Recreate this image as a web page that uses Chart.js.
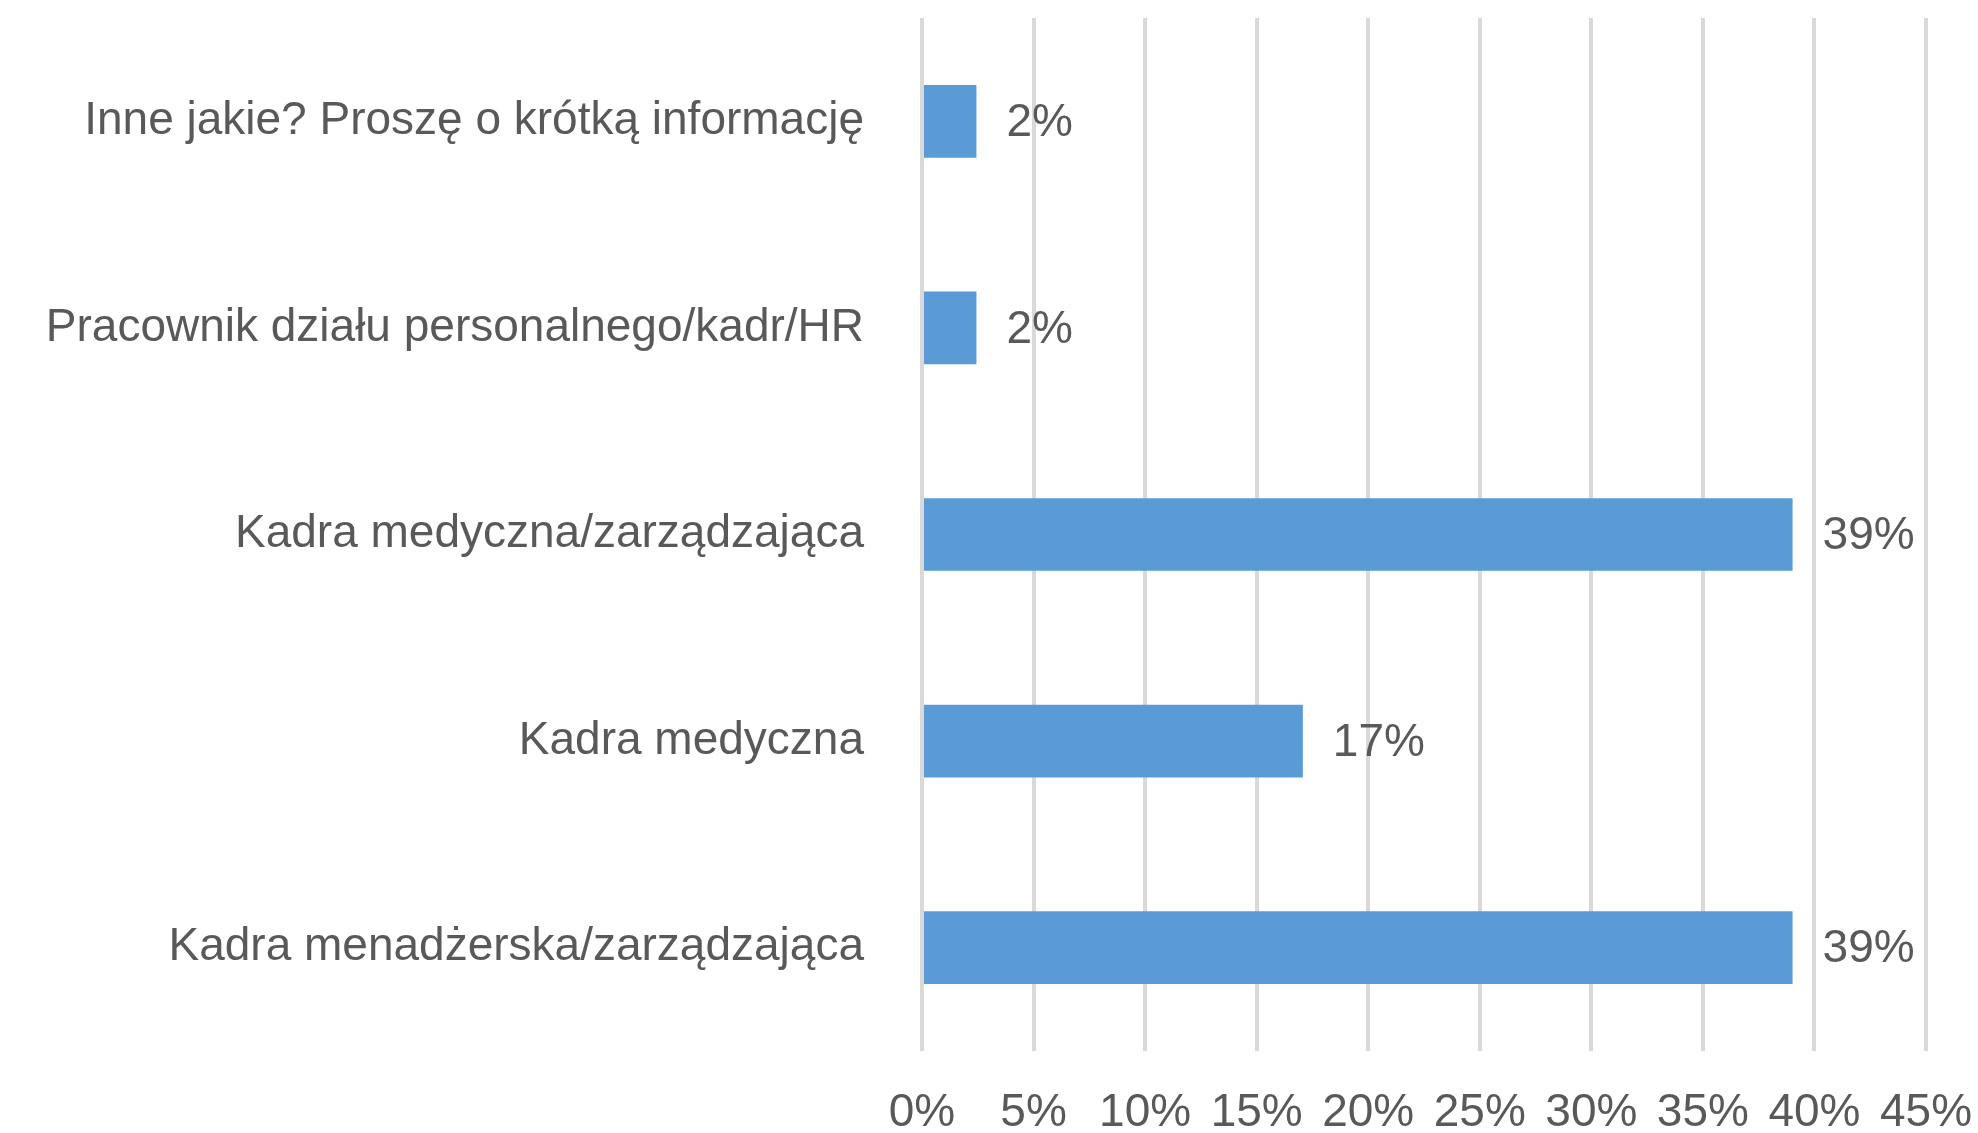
<!DOCTYPE html>
<html lang="pl">
<head>
    <meta charset="UTF-8">
    <title>Stanowisko respondentów</title>
    <script src="https://cdn.jsdelivr.net/npm/chart.js"></script>
    <style>
        html, body {
            margin: 0;
            padding: 0;
            background: #ffffff;
        }
        .wrap {
            width: 1978px;
            height: 1133px;
        }
    </style>
</head>
<body>
    <div class="wrap">
        <canvas id="chart" width="1978" height="1133"></canvas>
    </div>

    <script>
        // categories, top to bottom as shown
        const categories = [
            'Inne jakie? Proszę o krótką informację',
            'Pracownik działu personalnego/kadr/HR',
            'Kadra medyczna/zarządzająca',
            'Kadra medyczna',
            'Kadra menadżerska/zarządzająca'
        ];
        // share of answers, in percent
        const shares = [2.44, 2.44, 39.02, 17.07, 39.02];
        const axisMax = 45;
        const axisStep = 5;

        const textColor = '#595959';
        const fontFamily = "'Liberation Sans', Arial, sans-serif";

        // draws the value labels just right of each bar
        const valueLabels = {
            id: 'valueLabels',
            afterDatasetsDraw(chart) {
                const ctx = chart.ctx;
                const meta = chart.getDatasetMeta(0);
                ctx.save();
                ctx.font = '46px ' + fontFamily;
                ctx.fillStyle = textColor;
                ctx.textAlign = 'left';
                ctx.textBaseline = 'middle';
                meta.data.forEach((bar, i) => {
                    ctx.fillText(Math.round(shares[i]) + '%', bar.x + 30, bar.y + 2);
                });
                ctx.restore();
            }
        };

        new Chart(document.getElementById('chart').getContext('2d'), {
            type: 'bar',
            data: {
                labels: categories,
                datasets: [{
                    data: shares,
                    backgroundColor: '#5B9BD5',
                    borderWidth: 0,
                    barPercentage: 0.352,
                    categoryPercentage: 1
                }]
            },
            plugins: [valueLabels],
            options: {
                indexAxis: 'y',
                responsive: false,
                animation: false,
                layout: {
                    padding: { top: 18, right: 52, bottom: 0, left: 0 }
                },
                plugins: {
                    legend: { display: false },
                    tooltip: { enabled: false }
                },
                scales: {
                    x: {
                        min: 0,
                        max: axisMax,
                        border: { display: false },
                        grid: {
                            color: '#D9D9D9',
                            lineWidth: 4,
                            drawTicks: false
                        },
                        ticks: {
                            stepSize: axisStep,
                            padding: 35,
                            color: textColor,
                            font: { family: fontFamily, size: 46 },
                            maxRotation: 0,
                            callback: v => v + '%'
                        },
                        afterFit: s => {
                            s.height = 82;
                            s.paddingLeft = 0;
                            s.paddingRight = 0;
                        }
                    },
                    y: {
                        border: { display: false },
                        grid: { display: false, drawTicks: false },
                        ticks: {
                            padding: 58,
                            color: textColor,
                            font: { family: fontFamily, size: 46 }
                        },
                        afterFit: s => {
                            s.width = 922;
                            s.paddingTop = 0;
                            s.paddingBottom = 0;
                        }
                    }
                }
            }
        });
    </script>
</body>
</html>
